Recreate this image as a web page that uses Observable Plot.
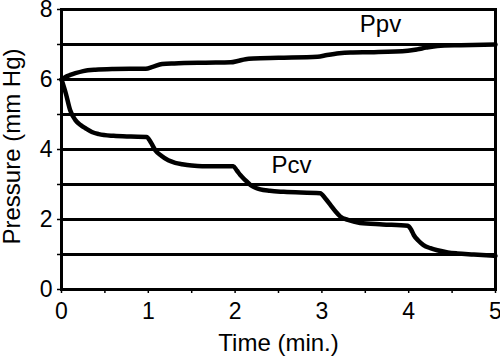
<!DOCTYPE html>
<html>
<head>
<meta charset="utf-8">
<script src="https://cdn.jsdelivr.net/npm/d3@7"></script>
<script src="https://cdn.jsdelivr.net/npm/@observablehq/plot@0.6"></script>
<style>
  html, body { margin: 0; padding: 0; background: #fff; }
</style>
</head>
<body>
<div id="chart"></div>
<script>
// Ppv (peripheral venous pressure)
const ppvTime  = [0, 0.05, 0.1, 0.16, 0.25, 0.39, 0.6, 0.97, 1.05, 1.16, 1.3, 1.66, 1.95, 2.03, 2.12, 2.21, 2.5, 2.95, 3.06, 3.2, 3.33, 3.6, 3.99, 4.1, 4.2, 4.33, 4.6, 5];
const ppvValue = [6.0, 6.08, 6.13, 6.18, 6.24, 6.28, 6.3, 6.31, 6.36, 6.44, 6.46, 6.48, 6.49, 6.53, 6.58, 6.6, 6.62, 6.65, 6.7, 6.75, 6.77, 6.78, 6.82, 6.86, 6.91, 6.96, 6.98, 7.0];

// Pcv (central venous pressure)
const pcvTime  = [0, 0.05, 0.1, 0.16, 0.22, 0.28, 0.35, 0.43, 0.6, 0.8, 0.98, 1.03, 1.08, 1.15, 1.23, 1.31, 1.39, 1.5, 1.62, 1.98, 2.02, 2.06, 2.12, 2.18, 2.24, 2.29, 2.4, 2.56, 2.98, 3.04, 3.1, 3.16, 3.21, 3.31, 3.44, 3.7, 3.99, 4.03, 4.06, 4.11, 4.17, 4.25, 4.33, 4.45, 4.56, 4.75, 4.94, 5];
const pcvValue = [6, 5.6, 5.12, 4.84, 4.7, 4.6, 4.5, 4.44, 4.39, 4.37, 4.36, 4.2, 3.98, 3.82, 3.69, 3.62, 3.58, 3.54, 3.52, 3.52, 3.4, 3.27, 3.12, 2.98, 2.9, 2.86, 2.82, 2.79, 2.75, 2.6, 2.41, 2.22, 2.09, 1.98, 1.9, 1.86, 1.82, 1.7, 1.55, 1.4, 1.27, 1.18, 1.12, 1.06, 1.03, 1.0, 0.97, 0.96];

// Axis ticks and labels
const yTicks = [0, 1, 2, 3, 4, 5, 6, 7, 8];
const yTickLabels = ["0", "", "2", "", "4", "", "6", "", "8"];
const xTicks = [0, 0.5, 1, 1.5, 2, 2.5, 3, 3.5, 4, 4.5, 5];
const xTickLabels = ["0", "", "1", "", "2", "", "3", "", "4", "", "5"];
const gridValues = [1, 2, 3, 4, 5, 6, 7];

// Series labels (in data coordinates)
const seriesNames = ["Ppv", "Pcv"];
const seriesLabelX = [3.675, 2.65];
const seriesLabelY = [7.58, 3.54];

const xTitle = "Time (min.)";
const yTitle = "Pressure (mm Hg)";

const ppv = ppvTime.map((t, i) => ({t, v: ppvValue[i]}));
const pcv = pcvTime.map((t, i) => ({t, v: pcvValue[i]}));
const labels = seriesNames.map((n, i) => ({name: n, x: seriesLabelX[i], y: seriesLabelY[i]}));

const chart = Plot.plot({
  width: 500,
  height: 358,
  marginLeft: 61,
  marginRight: 5,
  marginTop: 9,
  marginBottom: 69,
  style: {fontFamily: "'Liberation Sans', Arial, sans-serif", fontSize: "23px", background: "#fff", color: "#000"},
  x: {domain: [0, 5]},
  y: {domain: [0, 8]},
  marks: [
    Plot.ruleY(gridValues, {stroke: "#000", strokeWidth: 3}),
    Plot.frame({stroke: "#000", strokeWidth: 3}),
    Plot.axisY({ticks: yTicks, tickFormat: (d, i) => yTickLabels[yTicks.indexOf(d)], tickSize: 4, tickPadding: 5, strokeWidth: 1.5, label: null, fontSize: 23}),
    Plot.axisX({ticks: xTicks, tickFormat: (d) => xTickLabels[xTicks.indexOf(d)], tickSize: 4, tickPadding: 9, strokeWidth: 1.5, label: null, fontSize: 23}),
    Plot.line(ppv, {x: "t", y: "v", stroke: "#000", strokeWidth: 4.5, curve: "monotone-x"}),
    Plot.line(pcv, {x: "t", y: "v", stroke: "#000", strokeWidth: 4.5, curve: "monotone-x"}),
    Plot.text(labels, {
      x: "x", y: "y",
      text: (d) => d.name,
      fontSize: 24, fill: "#000",
      textAnchor: "middle", lineAnchor: "middle"
    }),
    Plot.text([yTitle], {frameAnchor: "left", dx: -49, dy: -3, rotate: -90, fontSize: 24, fill: "#000", textAnchor: "middle", lineAnchor: "middle", text: d => d}),
    Plot.text([xTitle], {frameAnchor: "bottom", dy: 53.5, fontSize: 24, fill: "#000", textAnchor: "middle", lineAnchor: "middle", text: d => d})
  ]
});
document.getElementById("chart").appendChild(chart);
</script>
</body>
</html>
